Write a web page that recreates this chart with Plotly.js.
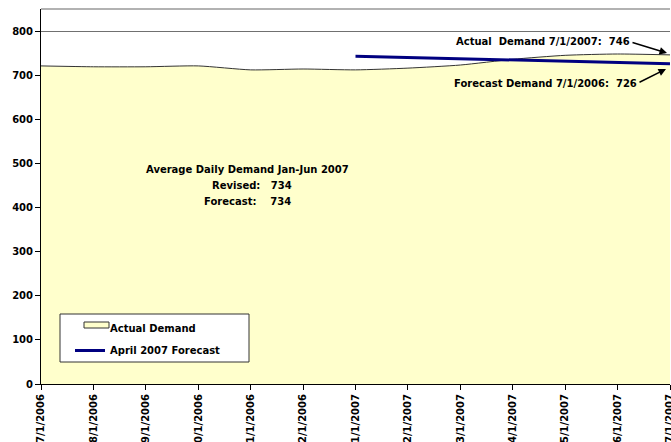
<!DOCTYPE html>
<html>
<head>
<meta charset="utf-8">
<script src="https://cdn.plot.ly/plotly-3.0.1.min.js"></script>
<style>html,body{margin:0;padding:0;background:#fff;}#chart{width:671px;height:442px;}</style>
</head>
<body>
<div id="chart"></div>
<script>
// Data
const months = ['7/1/2006','8/1/2006','9/1/2006','10/1/2006','11/1/2006','12/1/2006','1/1/2007','2/1/2007','3/1/2007','4/1/2007','5/1/2007','6/1/2007','7/1/2007'];
const actualDemand = [721, 719, 719, 721, 712, 714, 712, 716, 723, 736, 745, 748, 746];
const forecastMonths = ['1/1/2007','2/1/2007','3/1/2007','4/1/2007','5/1/2007','6/1/2007','7/1/2007'];
const aprilForecast = [743, 740, 738, 735, 732, 729, 726];
const yTicks = [0, 100, 200, 300, 400, 500, 600, 700, 800];

const idx = months.map((m, i) => i);
const fIdx = forecastMonths.map(m => months.indexOf(m));

const F = 'DejaVu Sans';
const NB = '\u00A0';

const traces = [
  {
    x: idx, y: actualDemand, name: '<b>Actual Demand</b>', type: 'scatter', mode: 'lines',
    fill: 'tozeroy', fillcolor: '#FFFFCC',
    line: {color: '#333333', width: 1, shape: 'spline', smoothing: 0.6},
    showlegend: false, hoverinfo: 'skip'
  },
  {
    // legend entry for the area (its swatch is drawn as a box below)
    x: [null], y: [null], name: '<b>Actual Demand</b>', type: 'scatter', mode: 'lines',
    line: {color: 'rgba(0,0,0,0)', width: 0},
    legendgroup: 'a', hoverinfo: 'skip'
  },
  {
    x: fIdx, y: aprilForecast, name: '<b>April 2007 Forecast</b>', type: 'scatter', mode: 'lines',
    line: {color: '#000080', width: 3},
    legendgroup: 'b', hoverinfo: 'skip'
  }
];

const L = 41, T = 9, W = 629, H = 375;
const px = v => (v - L) / W;
const py = v => (T + H - v) / H;

const layout = {
  width: 671, height: 442,
  margin: {l: L, r: 671 - L - W, t: T, b: 442 - T - H, pad: 0},
  paper_bgcolor: '#ffffff', plot_bgcolor: '#ffffff',
  font: {family: F, size: 10, color: '#000'},
  showlegend: true,
  legend: {
    x: px(70), y: py(314), xanchor: 'left', yanchor: 'top',
    bgcolor: 'rgba(0,0,0,0)', borderwidth: 0,
    font: {family: F, size: 10, color: '#000'},
    tracegroupgap: 3
  },
  xaxis: {
    range: [0, 12], tickmode: 'array', tickvals: idx, ticktext: months.map(m => '<b>' + m + '</b>'),
    tickangle: -90, ticks: 'outside', ticklen: 5, tickcolor: '#000', tickwidth: 1,
    ticklabeloverflow: 'allow',
    showline: true, linecolor: '#000', linewidth: 1, showgrid: false, zeroline: false,
    tickfont: {family: F, size: 10, color: '#000'}, fixedrange: true
  },
  yaxis: {
    range: [0, 850], tickmode: 'array', tickvals: yTicks, ticktext: yTicks.map(v => '<b>' + v + '</b>'),
    ticks: 'outside', ticklen: 5, tickcolor: '#000', tickwidth: 1,
    showline: true, linecolor: '#000', linewidth: 1,
    showgrid: true, gridcolor: '#707070', gridwidth: 1, zeroline: false,
    tickfont: {family: F, size: 10, color: '#000'}, fixedrange: true
  },
  shapes: [
    {type: 'line', xref: 'paper', yref: 'paper', x0: 0, x1: 1, y0: 1, y1: 1, line: {color: '#999999', width: 1.5}, layer: 'above'},
    {type: 'rect', xref: 'paper', yref: 'paper', x0: px(60), x1: px(249), y0: py(314), y1: py(362),
     fillcolor: '#ffffff', line: {color: '#333333', width: 1}, layer: 'above'},
    {type: 'rect', xref: 'paper', yref: 'paper', x0: px(84), x1: px(109), y0: py(322), y1: py(328),
     fillcolor: '#FFFFCC', line: {color: '#333333', width: 1}, layer: 'above'}
  ],
  annotations: [
    {xref: 'paper', yref: 'paper', x: px(248), y: py(169), text: '<b>Average Daily Demand Jan-Jun 2007</b>', showarrow: false, xanchor: 'center', yanchor: 'middle'},
    {xref: 'paper', yref: 'paper', x: px(252), y: py(185), text: '<b>Revised:' + NB + NB + NB + '734</b>', showarrow: false, xanchor: 'center', yanchor: 'middle'},
    {xref: 'paper', yref: 'paper', x: px(248), y: py(201), text: '<b>Forecast:' + NB + NB + NB + NB + '734</b>', showarrow: false, xanchor: 'center', yanchor: 'middle'},
    {xref: 'paper', yref: 'paper', x: px(632), y: py(42), text: '<b>Actual' + NB + NB + 'Demand 7/1/2007:' + NB + NB + '746</b>', showarrow: false, xanchor: 'right', yanchor: 'middle'},
    {xref: 'paper', yref: 'paper', x: px(639), y: py(83), text: '<b>Forecast Demand 7/1/2006:' + NB + NB + '726</b>', showarrow: false, xanchor: 'right', yanchor: 'middle'},
    {xref: 'paper', yref: 'paper', x: px(667), y: py(53), text: '', showarrow: true, ax: -36, ay: -11,
     arrowhead: 2, arrowsize: 1, arrowwidth: 1.5, arrowcolor: '#000'},
    {xref: 'paper', yref: 'paper', x: px(666), y: py(69), text: '', showarrow: true, ax: -28, ay: 14,
     arrowhead: 2, arrowsize: 1, arrowwidth: 1.5, arrowcolor: '#000'}
  ]
};

Plotly.newPlot('chart', traces, layout, {staticPlot: true, displayModeBar: false});
</script>
</body>
</html>
